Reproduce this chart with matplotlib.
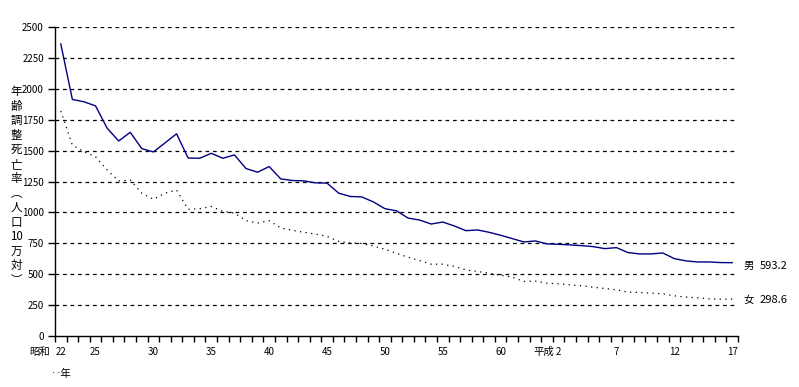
import numpy as np
import matplotlib
matplotlib.use('Agg')
import matplotlib.pyplot as plt

plt.rcParams['font.family'] = ['Noto Sans CJK JP', 'DejaVu Sans']

# 昭和22年(1947) ... 平成17年(2005)
male = [2363, 1914, 1895, 1862, 1682, 1578, 1648, 1516, 1489, 1562,
        1636, 1440, 1438, 1478, 1438, 1465, 1355, 1325, 1371, 1271,
        1258, 1255, 1239, 1237, 1156, 1129, 1125, 1085, 1030, 1013,
        954, 938, 906, 922, 890, 852, 858, 839, 815, 788,
        761, 769, 745, 742, 737, 731, 723, 707, 715, 675,
        664, 664, 672, 626, 608, 599, 599, 594, 593.2]
female = [1820, 1545, 1491, 1451, 1343, 1254, 1262, 1155, 1106, 1155,
          1181, 1025, 1030, 1048, 1008, 995, 933, 914, 933, 874,
          855, 839, 825, 806, 766, 753, 749, 728, 702, 669,
          637, 610, 581, 581, 562, 535, 522, 508, 492, 476,
          441, 444, 427, 422, 414, 406, 395, 384, 374, 355,
          352, 347, 341, 325, 315, 309, 301, 298, 298.6]
tick_idx = [0, 3, 8, 13, 18, 23, 28, 33, 38, 43, 48, 53, 58]
tick_labels = ['22', '25', '30', '35', '40', '45', '50', '55', '60', '2', '7', '12', '17']
yticks = list(range(0, 2501, 250))

x = np.arange(len(male))

fig = plt.figure(figsize=(7.99, 3.87), dpi=100)
ax = fig.add_axes([55 / 799, 51 / 387, 683 / 799, 309 / 387])

ax.plot(x, male, color='#000080', lw=1.0)
ax.plot(x, female, color='black', lw=0.9, linestyle=(0, (1, 3.5)))

ax.set_xlim(-0.5, len(male) - 0.5)
ax.set_ylim(0, 2500)
ax.set_yticks(yticks)
ax.set_yticklabels([str(v) for v in yticks], fontsize=7)
for v in yticks[1:]:
    ax.axhline(v, color='black', lw=0.9, linestyle=(0, (3, 3)), zorder=0)

ax.set_xticks(tick_idx)
ax.set_xticklabels(tick_labels, fontsize=7)
ax.set_xticks(np.arange(-0.5, len(male), 1), minor=True)
ax.tick_params(axis='x', which='major', length=0, pad=8)
ax.tick_params(axis='x', which='minor', length=4, width=1, direction='out')
ax.tick_params(axis='y', length=5, width=1, direction='out', pad=3)

for s in ['top', 'right']:
    ax.spines[s].set_visible(False)
for s in ['left', 'bottom']:
    ax.spines[s].set_linewidth(1.0)

ax.text(-0.9, -130, '昭和', fontsize=7.5, ha='right', va='center')
ax.text(42.6, -130, '平成', fontsize=7.5, ha='right', va='center')
ax.text(0, -310, '‥年', fontsize=7.5, ha='center', va='center')

ax.text(59.0, male[-1] - 27, '男', fontsize=7.5, va='center', clip_on=False)
ax.text(60.4, male[-1] - 27, '593.2', fontsize=8, va='center', clip_on=False)
ax.text(59.0, female[-1] - 8, '女', fontsize=7.5, va='center', clip_on=False)
ax.text(60.4, female[-1] - 8, '298.6', fontsize=8, va='center', clip_on=False)

ylab = ['年', '齢', '調', '整', '死', '亡', '率', '︵', '人', '口', '10', '万', '対', '︶']
fig.text(16 / 799, 1 - 186 / 387, '\n'.join(ylab), fontsize=8.3, ha='center', va='center',
         linespacing=1.15)

fig.savefig('out.png', dpi=100)
